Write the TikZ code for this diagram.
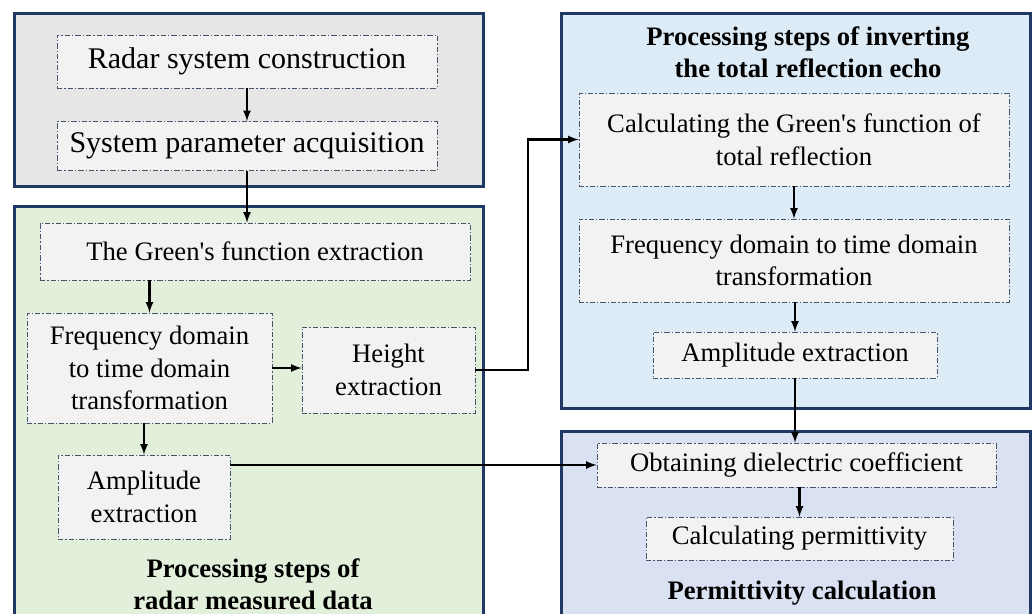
\documentclass[tikz,border=0pt]{standalone}
\usepackage{fontspec}
\setmainfont{Liberation Serif}
\usepackage{tikz}
\usetikzlibrary{shapes, arrows}
\definecolor{navyline}{HTML}{203864}
\definecolor{boxline}{HTML}{44546A}
\definecolor{graypanel}{HTML}{E6E6E6}
\definecolor{greenpanel}{HTML}{E2EFDA}
\definecolor{bluepanel}{HTML}{DDEBF7}
\definecolor{purplepanel}{HTML}{D9E1F2}
\definecolor{boxfill}{HTML}{F2F2F2}
\tikzstyle{panel} = [rectangle, line width=2.25pt, draw=navyline]
\tikzstyle{stepbox} = [rectangle, inner sep=0pt, text centered, draw=boxline, fill=boxfill, line width=0.6pt, dash pattern=on 4pt off 1.5pt on 1pt off 1.5pt, font=\fontsize{20}{24.5}\selectfont]
\tikzstyle{bigstep} = [stepbox, font=\fontsize{22.5}{25}\selectfont]
\tikzstyle{title} = [text centered, font=\fontsize{20}{24}\selectfont\bfseries]
\tikzstyle{arrow} = [line width=1.7pt,->,>=latex]

\begin{document}
\begin{tikzpicture}[x=0.75pt, y=-0.75pt, align=center]
    \useasboundingbox (0,0) rectangle (1033,614);
    % panels
    \draw [panel, fill=graypanel] (14,13) rectangle (483,186);
    \draw [panel, fill=greenpanel] (14,206) rectangle (483,640);
    \draw [panel, fill=bluepanel] (561,13) rectangle (1030,408);
    \draw [panel, fill=purplepanel] (561,431) rectangle (1030,640);

    % radar system
    \node (rsc) [bigstep, minimum width=285pt, minimum height=39.75pt] at (247,61.5) {Radar system construction};
    \node (spa) [bigstep, minimum width=285pt, minimum height=36.75pt] at (247,146) {System parameter acquisition};

    % measured data
    \node (gfe) [stepbox, minimum width=322.5pt, minimum height=42.75pt] at (255,251.5) {The Green\textquotesingle s function extraction};
    \node (freq) [stepbox, minimum width=183.75pt, minimum height=82.5pt] at (149.5,368) {Frequency domain\\to time domain\\transformation};
    \node (height) [stepbox, minimum width=129.75pt, minimum height=64.5pt] at (388.5,370) {Height\\extraction};
    \node (amp) [stepbox, minimum width=129pt, minimum height=63pt] at (144,497) {Amplitude\\extraction};
    \node (mtitle) [title] at (253,584) {Processing steps of\\radar measured data};

    % total reflection echo
    \node (etitle) [title] at (808,52) {Processing steps of inverting\\the total reflection echo};
    \node (cgf) [stepbox, minimum width=322.5pt, minimum height=69.75pt] at (794,139.5) {Calculating the Green\textquotesingle s function of\\total reflection};
    \node (freqtwo) [stepbox, minimum width=322.5pt, minimum height=62.25pt] at (794,260.5) {Frequency domain to time domain\\transformation};
    \node (amptwo) [stepbox, minimum width=213pt, minimum height=34.5pt] at (795,355) {Amplitude extraction};

    % permittivity
    \node (obt) [stepbox, minimum width=299.25pt, minimum height=33pt] at (796.5,465) {Obtaining dielectric coefficient};
    \node (perm) [stepbox, minimum width=230.25pt, minimum height=32.25pt] at (799.5,538.5) {Calculating permittivity};
    \node (ptitle) [title] at (802,593) {Permittivity calculation};

    \draw [arrow] (rsc) -- (spa);
    \draw [arrow] (spa.south) -- (spa.south |- gfe.north);
    \draw [arrow] (freq.north |- gfe.south) -- (freq.north);
    \draw [arrow] (freq.east) -- (freq.east -| height.west);
    \draw [arrow] (amp.north |- freq.south) -- (amp.north);
    \draw [arrow] (height.east) -- (528,370) |- (cgf.west);
    \draw [arrow] (cgf) -- (freqtwo);
    \draw [arrow] (freqtwo.south -| amptwo.north) -- (amptwo.north);
    \draw [arrow] (amptwo.south) -- (amptwo.south |- obt.north);
    \draw [arrow] (amp.east |- obt.west) -- (obt.west);
    \draw [arrow] (obt.south -| perm.north) -- (perm.north);
  \end{tikzpicture}
\end{document}
